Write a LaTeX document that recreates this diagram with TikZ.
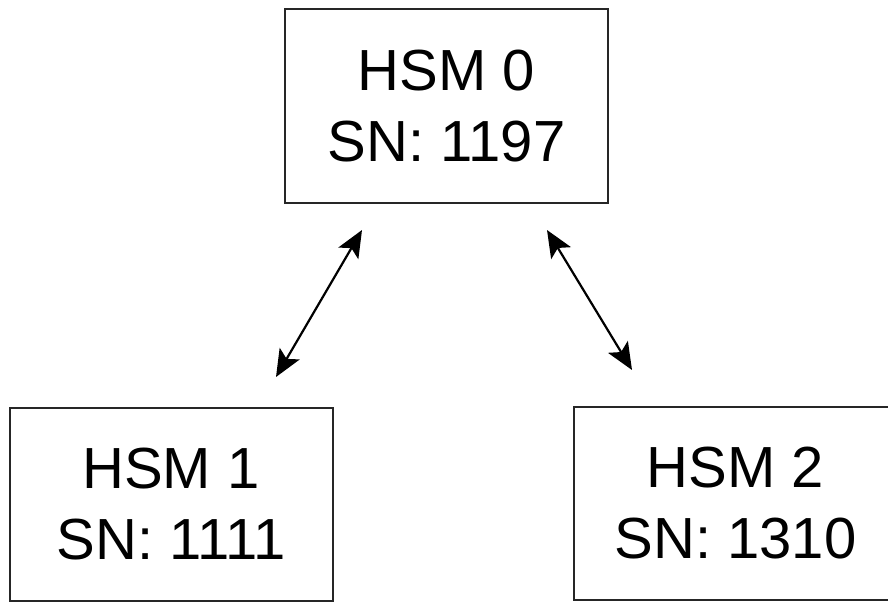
\documentclass[tikz,border=0pt]{standalone}
\usepackage{fontspec}
\setmainfont{Liberation Sans}
\usetikzlibrary{arrows.meta}
\begin{document}
\begin{tikzpicture}[x=1pt,y=-1pt,
  hsm/.style={draw=black!85, line width=2pt, fill=white, align=center,
    minimum width=323pt, minimum height=193pt, inner sep=0pt,
    font=\fontsize{58}{71}\selectfont},
  tip/.tip={Stealth[length=27pt,width=23pt,inset=6pt]},
  link/.style={line width=2.2pt, tip-tip}]
\useasboundingbox (0,0) rectangle (888,602);
\node[hsm] (h0) at (446.5,106) {HSM 0\\SN: 1197};
\node[hsm] (h1) at (171,504) {HSM 1\\SN: 1111};
\node[hsm] (h2) at (735.5,503.5) {HSM 2\\SN: 1310};
\coordinate (l0) at (362,230);
\coordinate (l1) at (276,377);
\coordinate (r0) at (547,230);
\coordinate (r1) at (632,370);
\draw[link] (l0) -- (l1);
\draw[link] (r0) -- (r1);
\end{tikzpicture}
\end{document}
